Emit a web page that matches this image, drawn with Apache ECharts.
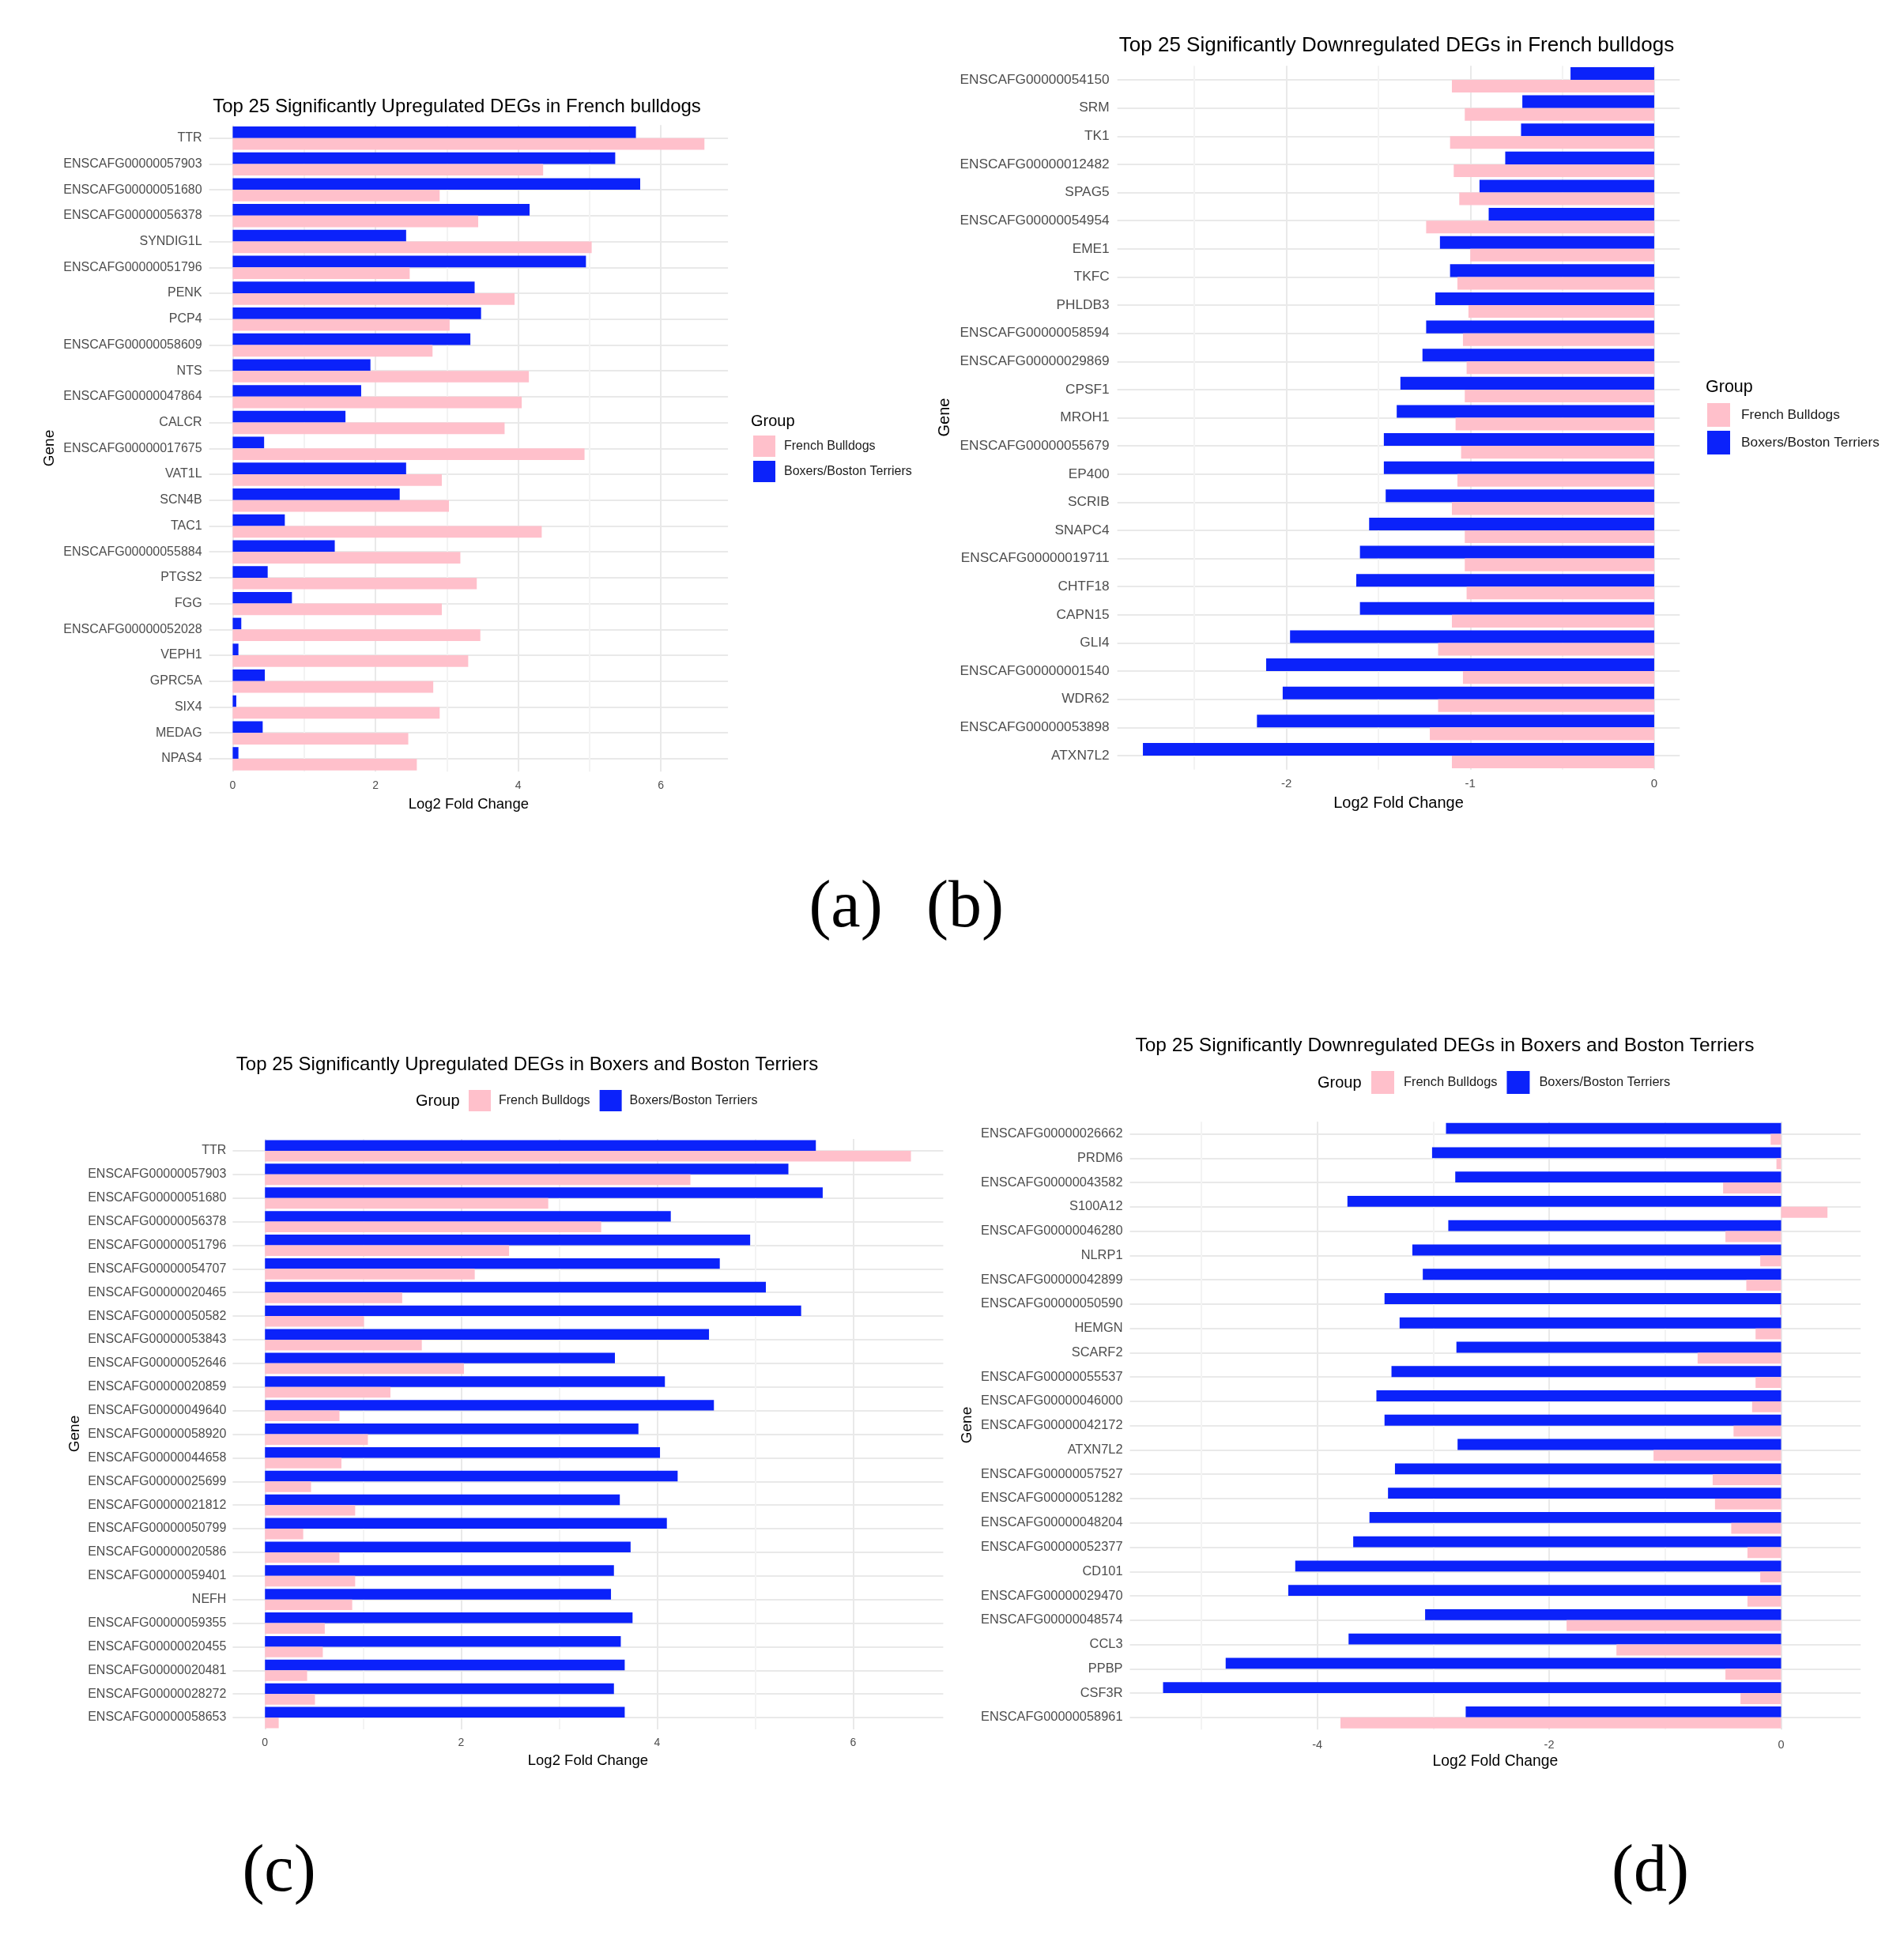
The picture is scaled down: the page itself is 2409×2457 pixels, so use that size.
<!DOCTYPE html>
<html><head><meta charset="utf-8">
<script src="https://cdn.jsdelivr.net/npm/echarts@6/dist/echarts.min.js"></script>
<style>html,body{margin:0;padding:0;background:#fff}#c{width:2409px;height:2457px}</style>
</head><body><div id="c"></div>
<script>
const groups = ['French Bulldogs', 'Boxers/Boston Terriers'];

// (a) Upregulated in French bulldogs
const genesA = ['TTR','ENSCAFG00000057903','ENSCAFG00000051680','ENSCAFG00000056378','SYNDIG1L','ENSCAFG00000051796','PENK','PCP4','ENSCAFG00000058609','NTS','ENSCAFG00000047864','CALCR','ENSCAFG00000017675','VAT1L','SCN4B','TAC1','ENSCAFG00000055884','PTGS2','FGG','ENSCAFG00000052028','VEPH1','GPRC5A','SIX4','MEDAG','NPAS4'];
const fbA = [6.61,4.35,2.90,3.44,5.03,2.48,3.95,3.04,2.80,4.15,4.05,3.81,4.93,2.93,3.03,4.33,3.19,3.42,2.93,3.47,3.30,2.81,2.90,2.46,2.58];
const bbA = [5.65,5.36,5.71,4.16,2.43,4.95,3.39,3.48,3.33,1.93,1.80,1.58,0.44,2.43,2.34,0.73,1.43,0.49,0.83,0.12,0.08,0.45,0.05,0.42,0.08];
const ticksA = [0,2,4,6];

// (b) Downregulated in French bulldogs
const genesB = ['ENSCAFG00000054150','SRM','TK1','ENSCAFG00000012482','SPAG5','ENSCAFG00000054954','EME1','TKFC','PHLDB3','ENSCAFG00000058594','ENSCAFG00000029869','CPSF1','MROH1','ENSCAFG00000055679','EP400','SCRIB','SNAPC4','ENSCAFG00000019711','CHTF18','CAPN15','GLI4','ENSCAFG00000001540','WDR62','ENSCAFG00000053898','ATXN7L2'];
const fbB = [-1.10,-1.03,-1.11,-1.09,-1.06,-1.24,-1.00,-1.07,-1.01,-1.04,-1.02,-1.03,-1.08,-1.05,-1.07,-1.10,-1.03,-1.03,-1.02,-1.10,-1.175,-1.04,-1.175,-1.22,-1.10];
const bbB = [-0.455,-0.717,-0.724,-0.81,-0.95,-0.90,-1.165,-1.11,-1.19,-1.24,-1.26,-1.38,-1.40,-1.47,-1.47,-1.46,-1.55,-1.60,-1.62,-1.60,-1.98,-2.11,-2.02,-2.16,-2.78];
const ticksB = [-2,-1,0];

// (c) Upregulated in Boxers and Boston Terriers
const genesC = ['TTR','ENSCAFG00000057903','ENSCAFG00000051680','ENSCAFG00000056378','ENSCAFG00000051796','ENSCAFG00000054707','ENSCAFG00000020465','ENSCAFG00000050582','ENSCAFG00000053843','ENSCAFG00000052646','ENSCAFG00000020859','ENSCAFG00000049640','ENSCAFG00000058920','ENSCAFG00000044658','ENSCAFG00000025699','ENSCAFG00000021812','ENSCAFG00000050799','ENSCAFG00000020586','ENSCAFG00000059401','NEFH','ENSCAFG00000059355','ENSCAFG00000020455','ENSCAFG00000020481','ENSCAFG00000028272','ENSCAFG00000058653'];
const fbC = [6.59,4.34,2.89,3.43,2.49,2.14,1.40,1.01,1.60,2.03,1.28,0.76,1.05,0.78,0.47,0.92,0.39,0.76,0.92,0.89,0.61,0.59,0.43,0.51,0.14];
const bbC = [5.62,5.34,5.69,4.14,4.95,4.64,5.11,5.47,4.53,3.57,4.08,4.58,3.81,4.03,4.21,3.62,4.10,3.73,3.56,3.53,3.75,3.63,3.67,3.56,3.67];
const ticksC = [0,2,4,6];

// (d) Downregulated in Boxers and Boston Terriers
const genesD = ['ENSCAFG00000026662','PRDM6','ENSCAFG00000043582','S100A12','ENSCAFG00000046280','NLRP1','ENSCAFG00000042899','ENSCAFG00000050590','HEMGN','SCARF2','ENSCAFG00000055537','ENSCAFG00000046000','ENSCAFG00000042172','ATXN7L2','ENSCAFG00000057527','ENSCAFG00000051282','ENSCAFG00000048204','ENSCAFG00000052377','CD101','ENSCAFG00000029470','ENSCAFG00000048574','CCL3','PPBP','CSF3R','ENSCAFG00000058961'];
const fbD = [-0.09,-0.04,-0.50,0.40,-0.48,-0.18,-0.30,-0.01,-0.22,-0.72,-0.22,-0.25,-0.41,-1.10,-0.59,-0.57,-0.43,-0.29,-0.18,-0.29,-1.85,-1.42,-0.48,-0.35,-3.80];
const bbD = [-2.89,-3.01,-2.81,-3.74,-2.87,-3.18,-3.09,-3.42,-3.29,-2.80,-3.36,-3.49,-3.42,-2.79,-3.33,-3.39,-3.55,-3.69,-4.19,-4.25,-3.07,-3.73,-4.79,-5.33,-2.72];
const ticksD = [-4,-2,0];

const titles = [
  'Top 25 Significantly Upregulated DEGs in French bulldogs',
  'Top 25 Significantly Downregulated DEGs in French bulldogs',
  'Top 25 Significantly Upregulated DEGs in Boxers and Boston Terriers',
  'Top 25 Significantly Downregulated DEGs in Boxers and Boston Terriers'
];
const panelTags = ['(a)', '(b)', '(c)', '(d)'];

const PINK = '#ffc0cb', BLUE = '#0b22fa';
const FONT = 'Liberation Sans';
const MAJ = '#e9e9e9', MIN = '#f3f3f3';

// ggplot-like 5% expansion of the value range (bars include 0)
function ext(a, b) {
  const all = a.concat(b, [0]);
  const lo = Math.min(...all), hi = Math.max(...all);
  const pad = (hi - lo) * 0.05;
  return [lo - pad, hi + pad];
}

const L = [
  { genes: genesA, fb: fbA, bb: bbA, ticks: ticksA,
    grid: {left: 264.6, top: 158.3, width: 656.5, height: 818},
    lab: 16, labM: 9, tick: 14, tickM: 11, nm: 18.5, nmGap: 32, split: 7, sc: [MAJ, MIN],
    title: {x: 573, y: 133, s: 24}, gene: {x: 63, y: 567, s: 19},
    leg: {orient: 'vertical', left: 953, top: 551, w: 28, h: 27, gap: 5, s: 16, pad: 6},
    grp: {x: 950, y: 533, s: 20}, tag: {x: 1070, y: 1150} },
  { genes: genesB, fb: fbB, bb: bbB, ticks: ticksB,
    grid: {left: 1413.7, top: 83.2, width: 711.6, height: 890.6},
    lab: 17.3, labM: 10, tick: 15, tickM: 11, nm: 20, nmGap: 33, split: 6, sc: [MIN, MAJ],
    title: {x: 1762, y: 55, s: 26}, gene: {x: 1195, y: 528, s: 20},
    leg: {orient: 'vertical', left: 2160, top: 510, w: 29, h: 30, gap: 5, s: 17.3, pad: 9},
    grp: {x: 2158, y: 490, s: 21.5}, tag: {x: 1221, y: 1150} },
  { genes: genesC, fb: fbC, bb: bbC, ticks: ticksC,
    grid: {left: 294.4, top: 1441, width: 899, height: 747},
    lab: 16, labM: 8, tick: 14, tickM: 10, nm: 18.5, nmGap: 30, split: 7, sc: [MAJ, MIN],
    title: {x: 662, y: 1345, s: 24}, gene: {x: 95, y: 1814, s: 19},
    leg: {orient: 'horizontal', left: 593, top: 1379, w: 28, h: 27, gap: 12, s: 16, pad: 5},
    grp: {x: 526, y: 1393, s: 20}, tag: {x: 353, y: 2370} },
  { genes: genesD, fb: fbD, bb: bbD, ticks: ticksD,
    grid: {left: 1429.5, top: 1419.2, width: 924.7, height: 769},
    lab: 16.4, labM: 9, tick: 14.5, tickM: 12, nm: 19.3, nmGap: 31, split: 6, sc: [MIN, MAJ],
    title: {x: 1823, y: 1320, s: 24.5}, gene: {x: 1224, y: 1803, s: 19},
    leg: {orient: 'horizontal', left: 1735, top: 1355, w: 29, h: 29, gap: 12, s: 16.4, pad: 7},
    grp: {x: 1667, y: 1370, s: 20}, tag: {x: 2088, y: 2370} }
];

const option = {
  animation: false,
  backgroundColor: '#ffffff',
  textStyle: {fontFamily: FONT},
  title: [], grid: [], xAxis: [], yAxis: [], series: [], legend: [], graphic: []
};

L.forEach((p, i) => {
  const e = ext(p.fb, p.bb);
  option.grid.push(Object.assign({containLabel: false}, p.grid));
  option.title.push({
    text: titles[i], left: p.title.x, top: p.title.y - p.title.s * 0.6, textAlign: 'center',
    textStyle: {fontFamily: FONT, fontSize: p.title.s, fontWeight: 'normal', color: '#000'}
  });
  option.xAxis.push({
    type: 'value', gridIndex: i, min: e[0], max: e[1], splitNumber: p.split,
    axisLine: {show: false}, axisTick: {show: false},
    axisLabel: {
      color: '#4d4d4d', fontFamily: FONT, fontSize: p.tick, margin: p.tickM,
      showMinLabel: false, showMaxLabel: false,
      formatter: v => (p.ticks.some(t => Math.abs(t - v) < 1e-6) ? String(Math.round(v)) : '')
    },
    splitLine: {show: true, showMinLine: false, showMaxLine: false, lineStyle: {color: p.sc, width: 2}},
    name: 'Log2 Fold Change', nameLocation: 'middle', nameGap: p.nmGap,
    nameTextStyle: {color: '#000', fontFamily: FONT, fontSize: p.nm}
  });
  option.yAxis.push({
    type: 'category', gridIndex: i, data: p.genes, inverse: true,
    axisLine: {show: false}, axisTick: {show: false},
    axisLabel: {color: '#4d4d4d', fontFamily: FONT, fontSize: p.lab, margin: p.labM, interval: 0},
    splitLine: {show: true, alignWithLabel: true, interval: 0, lineStyle: {color: MAJ, width: 2}}
  });
  option.series.push({
    type: 'bar', name: groups[1], data: p.bb, xAxisIndex: i, yAxisIndex: i,
    itemStyle: {color: BLUE}, barGap: '0%', barCategoryGap: '10%'
  });
  option.series.push({
    type: 'bar', name: groups[0], data: p.fb, xAxisIndex: i, yAxisIndex: i,
    itemStyle: {color: PINK}, barGap: '0%', barCategoryGap: '10%'
  });
  option.legend.push({
    data: groups, orient: p.leg.orient, left: p.leg.left, top: p.leg.top, padding: 0,
    itemWidth: p.leg.w, itemHeight: p.leg.h, itemGap: p.leg.gap, icon: 'rect',
    selectedMode: false,
    textStyle: {fontFamily: FONT, fontSize: p.leg.s, color: '#1a1a1a', padding: [0, 0, 0, p.leg.pad]}
  });
  option.graphic.push({
    type: 'text', x: p.grp.x, y: p.grp.y,
    style: {text: 'Group', fontFamily: FONT, fontSize: p.grp.s, fill: '#000', align: 'left', verticalAlign: 'middle'}
  });
  option.graphic.push({
    type: 'text', x: p.gene.x, y: p.gene.y, rotation: Math.PI / 2,
    style: {text: 'Gene', fontFamily: FONT, fontSize: p.gene.s, fill: '#000', align: 'center', verticalAlign: 'middle'}
  });
  option.graphic.push({
    type: 'text', x: p.tag.x, y: p.tag.y,
    style: {text: panelTags[i], fontFamily: 'Liberation Serif', fontSize: 84, fill: '#000', align: 'center', verticalAlign: 'middle'}
  });
});

const chart = echarts.init(document.getElementById('c'));
chart.setOption(option);
</script>
</body></html>
